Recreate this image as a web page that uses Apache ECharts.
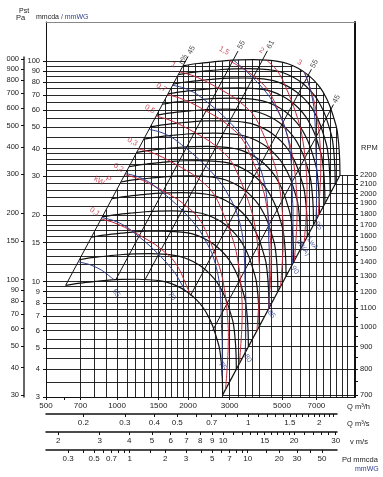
<!DOCTYPE html>
<html><head><meta charset="utf-8">
<script src="https://cdn.jsdelivr.net/npm/echarts@6/dist/echarts.min.js"></script>
<style>html,body{margin:0;padding:0;background:#fff}#c{width:383px;height:477px}</style>
</head><body><div id="c"></div>
<script>
// ---- data ----
// fan curve at the top speed (Q m3/h, Pst mmcda), shaft power kW and LwA dB(A) along it
const baseQ  = [1904,2200,2550,2900,3300,3800,4300,4800,5300,5800,6300,6800,7300,7700,8000,8300,8550,8700,8780,8810];
const baseP  = [95,97.3,99,100.3,101,101.2,100.7,99.5,97,93,88,82,75,68,62,55,49,42,36,30.3];
const baseKW = [1.10,1.20,1.33,1.47,1.62,1.80,2.00,2.20,2.45,2.75,3.05,3.35,3.65,3.95,4.2,4.5,4.8,5.1,5.4,5.7];
const baseDB = [87.2,87.8,88.6,89.5,90.4,91.4,92.3,93.1,93.8,94.5,95.1,95.8,96.6,97.4,98.1,98.8,99.3,99.7,99.9,100.1];
const rpmTop = 2200;
const rpmValues = [700,800,900,1000,1100,1200,1300,1400,1500,1600,1700,1800,1900,2000,2100,2200];
const rpmTickValues = [700,750,800,850,900,950,1000,1050,1100,1150,1200,1250,1300,1350,1400,1450,1500,1550,1600,1650,1700,1750,1800,1850,1900,1950,2000,2050,2100,2150,2200];
const powerLevels = [0.1,0.2,0.3,0.5,0.7,1,1.5,2,3];
const powerLabels = ['0,1','0,2','0,3','0,5','0,7','1','1,5','2','3'];
const noiseLevels = [65,70,75,80,85,90,95];
const etaQ = [1904,3100,4130,6440,7985];
const etaP = [95,100.4,100.7,85.5,59.2];
const etaLabels = ['45','55','61','55','45'];
const gridP = [3.5,4,4.5,5,5.5,6,6.5,7,7.5,8,8.5,9,9.5,10,11,12,13,14,15,16,17,18,19,20,22,24,26,28,30,32,34,36,38,40,45,50,55,60,65,70,75,80,85,90,95,100];
const gridQ = [700,800,900,1000,1100,1200,1300,1400,1500,1600,1700,1800,1900,2000,2150,2300,2450,2600,2800,3000,3250,3500,3750,4000,4500,5000,5500,6000,6500,7000,7500,8000,8500,9000,9500];
const qLabels = [500,700,1000,1500,2000,3000,5000,7000];
const qTickMarks = [500,600,700,1000,1500,2000,3000,5000,7000];
const qsLabels = [0.2,0.3,0.4,0.5,0.7,1,1.5,2];
const qsTickMarks = [0.2,0.3,0.4,0.5,0.6,0.7,0.8,0.9,1,1.1,1.2,1.3,1.4,1.5,1.6,1.7,1.8,1.9,2,2.1,2.2,2.3];
const vLabels = [2,3,4,5,6,7,8,9,10,15,20,30];
const vTickMarks = [2,3,4,5,6,7,8,9,10,11,12,13,14,15,16,17,18,19,20,22,24,26,28,30];
// dynamic pressure scale: tick values and the flow (m3/h) each one sits under, as printed
const pdLabels = [0.3,0.5,0.7,1,2,3,5,7,10,20,30,50];
const pdTickMarks = [0.3,0.4,0.5,0.6,0.7,0.8,0.9,1,1.5,2,3,4,5,6,7,8,9,10,15,20,30,40,50];
const pdTickAtQ  = [620,716,800,877,947,1013,1074,1132,1386,1601,1961,2264,2531,2773,2995,3202,3396,3580,4300,4870,5790,6600,7390];
const mmLabels = [3,4,5,6,7,8,9,10,15,20,30,40,50,60,70,80,90,100];
const paValues = [30,40,50,60,70,80,90,100,150,200,300,400,500,600,700,800,900,1000];
const paLabels = ['30','40','50','60','70','80','90','100','150','200','300','400','500','600','700','800','900','000'];
const outletArea = 0.0782;   // m2

// ---- helpers ----
const L = Math.log10;
const FONT = '"Liberation Sans Narrow","Liberation Sans",Arial,sans-serif';
const RED = '#c3283a', BLUE = '#2e3d8f', BLK = '#111';
const xMin = L(500), xMax = L(10200), yMin = L(3), yMax = L(150);
const N = baseQ.length, Qend = baseQ[N-1], Pend = baseP[N-1];
const rMin = rpmValues[0] / rpmTop;
const pt = (q, p) => [L(q), L(p)];
const fmtFrom = (vals, labs) => v => { const i = vals.findIndex(a => Math.abs(L(a) - v) < 1e-6); return i < 0 ? '' : String(labs[i]); };

function isoLine(rFn){
  const rs = baseQ.map((q,i)=>rFn(i)); const pts=[];
  for (let i=0;i<N;i++){
    if (i>0){
      const a=rs[i-1], b=rs[i];
      [1, rMin].forEach(bd=>{
        if ((a-bd)*(b-bd)<0){
          const t=(bd-a)/(b-a);
          const q=Math.pow(10, L(baseQ[i-1])*(1-t)+L(baseQ[i])*t);
          const p=Math.pow(10, L(baseP[i-1])*(1-t)+L(baseP[i])*t);
          pts.push(pt(q*bd, p*bd*bd));
        }
      });
    }
    const r=rs[i];
    if (r<=1+1e-9 && r>=rMin-1e-9) pts.push(pt(baseQ[i]*r, baseP[i]*r*r));
  }
  return pts;
}
function interp(poly, v, ia, ib){
  for (let i=1;i<poly.length;i++){
    const a=poly[i-1][ia], b=poly[i][ia];
    if ((v-a)*(v-b)<=0 && a!==b){ const t=(v-a)/(b-a); return poly[i-1][ib]*(1-t)+poly[i][ib]*t; }
  }
  return null;
}

const series = [];
const common = {xAxisIndex:0, yAxisIndex:0, showSymbol:false, silent:true, animation:false, clip:true};

// grid mesh
const topPoly = [pt(baseQ[0]*rMin, baseP[0]*rMin*rMin)].concat(baseQ.map((q,i)=>pt(q,baseP[i]))).concat([[xMax, L(Pend)]]);
let peak = 0; baseP.forEach((p,i)=>{ if (p>baseP[peak]) peak=i; });
const rightPoly = baseQ.slice(peak).map((q,k)=>pt(q, baseP[peak+k])).concat([pt(Qend*rMin, Pend*rMin*rMin)]);
const meshSegs = [];
gridP.forEach(p=>{
  const y=L(p); let xe;
  if (p>baseP[0]) xe = L(baseQ[0]) + (y - L(baseP[0]))/2;
  else xe = interp(rightPoly, y, 1, 0);
  if (xe!==null) meshSegs.push({coords:[[xMin,y],[xe,y]]});
});
gridQ.forEach(q=>{
  const x=L(q); const ye=interp(topPoly, x, 0, 1);
  if (ye!==null) meshSegs.push({coords:[[x,yMin],[x,ye]]});
});
rpmValues.forEach(n=>{ const r=n/rpmTop; const y=L(Pend*r*r); meshSegs.push({coords:[[L(Qend*r),y],[xMax,y]]}); });
series.push({type:'lines', coordinateSystem:'cartesian2d', xAxisIndex:0, yAxisIndex:0, silent:true, animation:false, clip:true,
  polyline:false, lineStyle:{color:BLK, width:1, opacity:0.9}, data:meshSegs});

// speed curves
rpmValues.forEach(n=>{
  const r=n/rpmTop;
  series.push(Object.assign({type:'line', smooth:0.3, data: baseQ.map((q,i)=>pt(q*r, baseP[i]*r*r)),
    lineStyle:{color:BLK, width:1.2}}, common));
});
// outlet limit diagonal (LwA line)
series.push(Object.assign({type:'line', data:[pt(Qend*rMin, Pend*rMin*rMin), pt(Qend, Pend)], lineStyle:{color:BLK,width:1.2}}, common));
// efficiency lines
const labelPts = [];
etaQ.forEach((q,k)=>{
  const rt = k>=3 ? 1.035 : 1.05, rl = k>=3 ? 1.065 : 1.085;
  series.push(Object.assign({type:'line', data:[pt(q*rMin, etaP[k]*rMin*rMin), pt(q*rt, etaP[k]*rt*rt)], lineStyle:{color:BLK,width:1}}, common));
  labelPts.push({value:pt(q*rl, etaP[k]*rl*rl), label:{formatter:etaLabels[k], rotate:62, color:'#222', fontSize:7.5}});
  if (k===0) labelPts.push({value:pt(q*rl, etaP[k]*rl*rl), label:{formatter:'η%', rotate:62, color:'#222', fontSize:7, offset:[-12,-3]}});
});
// power lines
powerLevels.forEach((w,k)=>{
  const d = isoLine(i=>Math.cbrt(w/baseKW[i]));
  if (!d.length) return;
  series.push(Object.assign({type:'line', smooth:0.3, data:d, lineStyle:{color:RED,width:1}}, common));
  const top = w > baseKW[0];
  labelPts.push({value:d[0], label:{formatter:powerLabels[k], rotate:-30, color:RED, fontSize:7.5, offset: top?[-9,-6]:[-9,-3]}});
});
// noise lines
noiseLevels.forEach(db=>{
  const d = isoLine(i=>Math.pow(10,(db-baseDB[i])/50));
  if (!d.length) return;
  series.push(Object.assign({type:'line', smooth:0.3, data:d, lineStyle:{color:BLUE,width:1}}, common));
  const off = db===65?[12,6]: db===70?[-3,14]: db===75?[-8,-6]:[6,1];
  labelPts.push({value:d[d.length-1], label:{formatter:String(db), rotate:-55, color:BLUE, fontSize:7.5, offset:off}});
});
{
  const r2 = Math.cbrt(0.2/baseKW[0]);
  const p2 = pt(baseQ[0]*r2, baseP[0]*r2*r2);
  labelPts.push({value:p2, label:{formatter:'P', rotate:-30, color:RED, fontSize:7.5, offset:[-12,12]}});
  labelPts.push({value:p2, label:{formatter:'kW', rotate:-30, color:RED, fontSize:7.5, offset:[-19,18]}});
  const rl = Math.sqrt(15.4/Pend);
  const pl = pt(Qend*rl, Pend*rl*rl);
  labelPts.push({value:pl, label:{formatter:'LwA', rotate:-55, color:BLUE, fontSize:7, offset:[7,-4]}});
  labelPts.push({value:pl, label:{formatter:'dB(A)', rotate:-55, color:BLUE, fontSize:7, offset:[5,6]}});
}
series.push({type:'scatter', xAxisIndex:0, yAxisIndex:0, symbolSize:0, silent:true, animation:false, clip:false,
  label:{show:true, position:'inside', fontFamily:FONT, fontSize:7.5}, data:labelPts, z:5});

// ---- axes ----
const lab = {fontFamily:FONT, fontSize:8, color:'#222'};
const secW = 291, mainW = 309;
const xMaxSec = xMin + (secW/mainW)*(xMax-xMin);
const qOf = {
  qs: q=>q*3600,
  v: v=>v*outletArea*3600,
  pd: pd=>pdTickAtQ[pdTickMarks.indexOf(pd)]
};
function botAxis(gi, vals, labs, ticks, conv){
  return {gridIndex:gi, type:'value', position:'bottom', min:xMin, max:xMaxSec,
    axisLine:{show:true, lineStyle:{color:BLK, width:1.5}},
    axisTick:{show:true, length:3, lineStyle:{color:BLK}, customValues:ticks.map(t=>L(conv(t)))},
    axisLabel:Object.assign({show:true, margin:5, customValues:vals.map(t=>L(conv(t))),
      formatter:fmtFrom(vals.map(conv), labs)}, lab),
    splitLine:{show:false}};
}
const rpmP = n => Pend*(n/rpmTop)*(n/rpmTop);

const option = {
  animation:false,
  backgroundColor:'#fff',
  grid:[
    {left:46, top:22, width:309, height:375},
    {left:24, top:57, width:10, height:340},
    {left:46, top:413, width:secW, height:1},
    {left:46, top:431, width:secW, height:1},
    {left:46, top:449, width:secW, height:1}
  ],
  xAxis:[
    {gridIndex:0, type:'value', position:'bottom', min:xMin, max:xMax,
      axisLine:{show:true, lineStyle:{color:BLK,width:1}},
      axisTick:{show:true, length:3, lineStyle:{color:BLK}, customValues:qTickMarks.map(L)},
      axisLabel:Object.assign({show:true, margin:5, customValues:qLabels.map(L), formatter:fmtFrom(qLabels,qLabels)}, lab),
      splitLine:{show:false}},
    {gridIndex:0, type:'value', position:'top', min:xMin, max:xMax,
      axisLine:{show:true, lineStyle:{color:'#888',width:1}}, axisTick:{show:false}, axisLabel:{show:false}, splitLine:{show:false}},
    {gridIndex:1, type:'value', show:false, min:0, max:1},
    botAxis(2, qsLabels, qsLabels, qsTickMarks, qOf.qs),
    botAxis(3, vLabels, vLabels, vTickMarks, qOf.v),
    botAxis(4, pdLabels, pdLabels, pdTickMarks, qOf.pd)
  ],
  yAxis:[
    {gridIndex:0, type:'value', position:'left', min:yMin, max:yMax,
      axisLine:{show:true, lineStyle:{color:BLK,width:1}},
      axisTick:{show:true, length:3, lineStyle:{color:BLK}, customValues:mmLabels.map(L)},
      axisLabel:Object.assign({show:true, margin:6, customValues:mmLabels.map(L), formatter:fmtFrom(mmLabels,mmLabels)}, lab, {fontSize:7.5}),
      splitLine:{show:false}},
    {gridIndex:0, type:'value', position:'right', min:yMin, max:yMax,
      axisLine:{show:true, lineStyle:{color:BLK,width:2}},
      axisTick:{show:true, length:3, lineStyle:{color:BLK}, customValues:rpmTickValues.map(n=>L(rpmP(n)))},
      axisLabel:Object.assign({show:true, margin:5, customValues:rpmValues.map(n=>L(rpmP(n))),
        formatter:fmtFrom(rpmValues.map(rpmP), rpmValues)}, lab, {fontSize:7.5}),
      splitLine:{show:false}},
    {gridIndex:1, type:'value', position:'left', min:yMin, max:yMin+340/375*(yMax-yMin),
      axisLine:{show:true, lineStyle:{color:'#333',width:1.5}},
      axisTick:{show:true, length:3, lineStyle:{color:BLK}, customValues:paValues.map(v=>L(v/9.80665))},
      axisLabel:Object.assign({show:true, margin:5, customValues:paValues.map(v=>L(v/9.80665)),
        formatter:fmtFrom(paValues.map(v=>v/9.80665), paLabels)}, lab, {fontSize:7.5}),
      splitLine:{show:false}},
    {gridIndex:2, type:'value', show:false},
    {gridIndex:3, type:'value', show:false},
    {gridIndex:4, type:'value', show:false}
  ],
  graphic:[
    {type:'text', x:19, y:11, style:{text:'Pst', font:'7px '+FONT, fill:'#222', textVerticalAlign:'middle'}},
    {type:'text', x:16, y:18, style:{text:'Pa', font:'7.5px '+FONT, fill:'#222', textVerticalAlign:'middle'}},
    {type:'text', x:36, y:17, style:{text:'{a|mmcda} {b|/ mmWG}', font:'7px '+FONT, textVerticalAlign:'middle',
      rich:{a:{fill:'#222', font:'7px '+FONT}, b:{fill:BLUE, font:'7px '+FONT}}}},
    {type:'text', x:361, y:148, style:{text:'RPM', font:'7.5px '+FONT, fill:'#222', textVerticalAlign:'middle'}},
    {type:'text', x:347, y:407, style:{text:'Q m³/h', font:'7.5px '+FONT, fill:'#222', textVerticalAlign:'middle'}},
    {type:'text', x:347, y:424, style:{text:'Q m³/s', font:'7.5px '+FONT, fill:'#222', textVerticalAlign:'middle'}},
    {type:'text', x:350, y:442, style:{text:'v m/s', font:'7.5px '+FONT, fill:'#222', textVerticalAlign:'middle'}},
    {type:'text', x:342, y:460, style:{text:'Pd mmcda', font:'7.5px '+FONT, fill:'#222', textVerticalAlign:'middle'}},
    {type:'text', x:355, y:469, style:{text:'mmWG', font:'7px '+FONT, fill:BLUE, textVerticalAlign:'middle'}}
  ],
  series: series
};
const chart = echarts.init(document.getElementById('c'), null, {renderer:'canvas'});
chart.setOption(option);
</script></body></html>
